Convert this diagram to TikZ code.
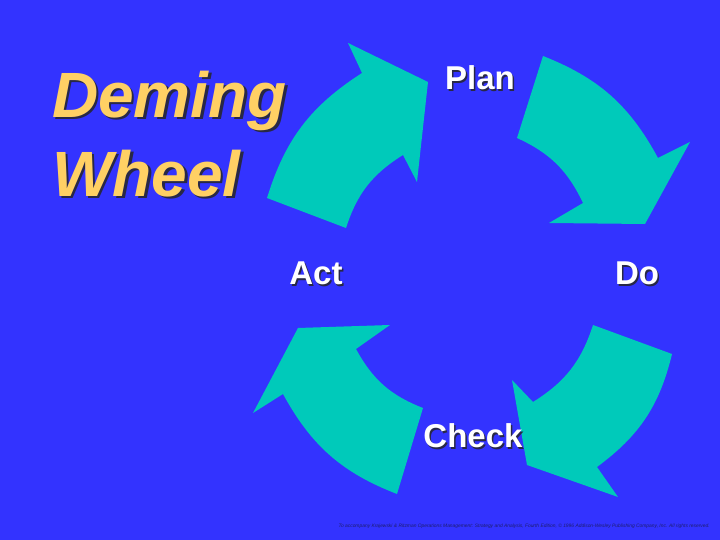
\documentclass[tikz,border=0pt]{standalone}
\usepackage{fontspec}
\setmainfont{Liberation Sans}
\usepackage{tikz}

\definecolor{slideblue}{RGB}{51,51,255}
\definecolor{wheelteal}{RGB}{0,202,186}
\definecolor{titleyellow}{RGB}{255,208,100}
\definecolor{shadowgrey}{RGB}{40,40,70}
\definecolor{footnavy}{RGB}{30,30,110}

\begin{document}
\begin{tikzpicture}[
    x=1pt,y=1pt,
    wheelarrow/.style={fill=wheelteal},
    steplbl/.style={font=\fontsize{33}{38}\selectfont\bfseries,text=white,
                    anchor=base,inner sep=0pt},
    title/.style={font=\fontsize{64}{79}\selectfont\bfseries\itshape,
                  text=titleyellow,align=left,anchor=base west,inner sep=0pt},
    drop/.style={text=shadowgrey},
]

% ---- slide background (fixes the bounding box) ----
\fill[slideblue] (0,0) rectangle (720,540);

% ---- the four curved arrows of the wheel ----
% Act -> Plan
\fill[wheelarrow] (267,342) to[bend left=20] (362,467) -- (348,497) -- (428,458)
  -- (417,358) -- (403,385) to[bend right=20] (346,312) -- cycle;
% Plan -> Do
\fill[wheelarrow] (543,484) to[bend left=20] (658,382) -- (690,398) -- (645,316)
  -- (549,317) -- (583,337) to[bend right=20] (517,402) -- cycle;
% Do -> Check
\fill[wheelarrow] (672,186) to[bend left=20] (597,73) -- (618,43) -- (527,75)
  -- (512,160) -- (533,138) to[bend right=20] (593,215) -- cycle;
% Check -> Act
\fill[wheelarrow] (397,46) to[bend left=20] (283,146) -- (253,127) -- (298,212)
  -- (390,215) -- (356,191) to[bend right=20] (423,132) -- cycle;

% ---- title ----
\node[title,drop] (title-s) at (54.5,341) {Deming\\Wheel};
\node[title]      (title)   at (52,343)   {Deming\\Wheel};

% ---- step labels ----
\foreach \t/\x/\y in {Plan/480/450,Do/637/255,Check/473/92,Act/316/255}{
  \node[steplbl,drop] (\t-s) at (\x+1.5,\y-1.5) {\t};
  \node[steplbl]      (\t)   at (\x,\y)         {\t};
}

% ---- footer ----
\node[anchor=base east,inner sep=0pt,text=footnavy,
      font=\fontsize{4.9}{6}\selectfont\itshape] (foot) at (710,12)
  {To accompany Krajewski \& Ritzman Operations Management: Strategy and Analysis, Fourth Edition, \textcopyright{} 1996 Addison-Wesley Publishing Company, Inc. All rights reserved.};

\end{tikzpicture}
\end{document}
